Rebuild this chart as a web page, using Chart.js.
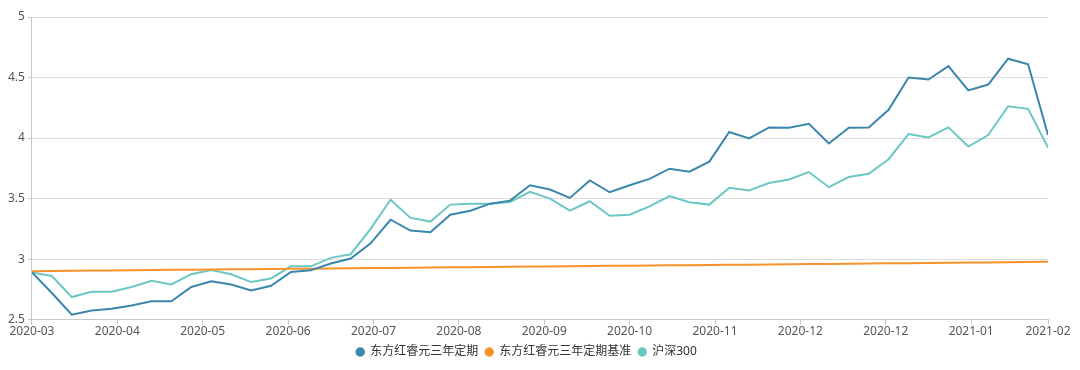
<!DOCTYPE html>
<html lang="zh">
<head>
  <meta charset="UTF-8">
  <title>东方红睿元三年定期 净值走势</title>
  <style>
    body {
      margin: 0;
      background: #ffffff;
    }
    .wrap {
      width: 1080px;
      height: 370px;
      position: relative;
    }
  </style>
</head>
<body>
  <div class="wrap">
    <canvas id="navChart"></canvas>
  </div>

  <script src="https://cdn.jsdelivr.net/npm/chart.js"></script>
  <script>
    // weekly dates (Fridays)
    const dates = [
      '2020-03-06', '2020-03-13', '2020-03-20', '2020-03-27',
      '2020-04-03', '2020-04-10', '2020-04-17', '2020-04-24',
      '2020-05-01', '2020-05-08', '2020-05-15', '2020-05-22', '2020-05-29',
      '2020-06-05', '2020-06-12', '2020-06-19', '2020-06-26',
      '2020-07-03', '2020-07-10', '2020-07-17', '2020-07-24', '2020-07-31',
      '2020-08-07', '2020-08-14', '2020-08-21', '2020-08-28',
      '2020-09-04', '2020-09-11', '2020-09-18', '2020-09-25',
      '2020-10-02', '2020-10-09', '2020-10-16', '2020-10-23', '2020-10-30',
      '2020-11-06', '2020-11-13', '2020-11-20', '2020-11-27',
      '2020-12-04', '2020-12-11', '2020-12-18', '2020-12-25',
      '2021-01-01', '2021-01-08', '2021-01-15', '2021-01-22', '2021-01-29',
      '2021-02-05', '2021-02-12', '2021-02-19', '2021-02-26'
    ];

    const fund = [
      2.89, 2.72, 2.54, 2.575, 2.59, 2.617, 2.652, 2.652, 2.77, 2.817,
      2.79, 2.74, 2.78, 2.894, 2.908, 2.963, 3.005, 3.13, 3.325, 3.236,
      3.222, 3.367, 3.40, 3.458, 3.483, 3.61, 3.575, 3.505, 3.65, 3.552,
      3.61, 3.663, 3.747, 3.722, 3.805, 4.05, 3.997, 4.088, 4.086, 4.117,
      3.955, 4.086, 4.088, 4.233, 4.50, 4.483, 4.594, 4.394, 4.442, 4.655,
      4.61, 4.025
    ];

    const benchmark = [
      2.900, 2.902, 2.903, 2.905, 2.906, 2.908, 2.909, 2.911, 2.912, 2.914,
      2.915, 2.917, 2.918, 2.920, 2.921, 2.923, 2.924, 2.926, 2.927, 2.929,
      2.930, 2.932, 2.933, 2.935, 2.936, 2.938, 2.939, 2.941, 2.942, 2.944,
      2.945, 2.947, 2.948, 2.950, 2.951, 2.953, 2.954, 2.956, 2.957, 2.959,
      2.960, 2.962, 2.963, 2.965, 2.966, 2.968, 2.969, 2.971, 2.972, 2.974,
      2.975, 2.977
    ];

    const hs300 = [
      2.89, 2.86, 2.686, 2.73, 2.73, 2.77, 2.82, 2.79, 2.875, 2.91,
      2.875, 2.81, 2.84, 2.94, 2.94, 3.01, 3.04, 3.25, 3.49, 3.34,
      3.31, 3.45, 3.458, 3.458, 3.472, 3.555, 3.50, 3.40, 3.478, 3.358,
      3.367, 3.436, 3.52, 3.469, 3.45, 3.589, 3.567, 3.628, 3.658, 3.719,
      3.594, 3.678, 3.705, 3.825, 4.033, 4.005, 4.088, 3.93, 4.025, 4.263,
      4.241, 3.922
    ];

    // x axis ticks (every 30 days, plus the last date)
    const tickDates = [
      '2020-03-06', '2020-04-05', '2020-05-05', '2020-06-04', '2020-07-04',
      '2020-08-03', '2020-09-02', '2020-10-02', '2020-11-01', '2020-12-01',
      '2020-12-31', '2021-01-30', '2021-02-26'
    ];
    const tickLabels = [
      '2020-03', '2020-04', '2020-05', '2020-06', '2020-07', '2020-08', '2020-09',
      '2020-10', '2020-11', '2020-12', '2020-12', '2021-01', '2021-02'
    ];

    const seriesNames = ['东方红睿元三年定期', '东方红睿元三年定期基准', '沪深300'];
    const colors = ['#3b86ad', '#f8922a', '#6cc7c4'];

    const toPoints = (values) => values.map((v, i) => ({ x: Date.parse(dates[i]), y: v }));

    const font = "'Noto Sans', 'Noto Sans CJK SC', sans-serif";
    Chart.defaults.font.family = font;

    const ctx = document.getElementById('navChart').getContext('2d');
    const chart = new Chart(ctx, {
      type: 'line',
      data: {
        datasets: [fund, benchmark, hs300].map((values, i) => ({
          label: seriesNames[i],
          data: toPoints(values),
          borderColor: colors[i],
          backgroundColor: colors[i],
          borderWidth: 2,
          pointRadius: 0,
          pointHoverRadius: 0,
          tension: 0,
          fill: false
        }))
      },
      options: {
        responsive: true,
        maintainAspectRatio: false,
        animation: false,
        layout: {
          padding: { left: 5, right: 32, top: 17, bottom: 2 }
        },
        scales: {
          x: {
            type: 'linear',
            min: Date.parse(dates[0]),
            max: Date.parse(dates[dates.length - 1]),
            afterBuildTicks: (axis) => {
              axis.ticks = tickDates.map(d => ({ value: Date.parse(d) }));
            },
            ticks: {
              autoSkip: false,
              maxRotation: 0,
              color: '#555',
              font: { size: 12 },
              padding: 0,
              callback: (value, index) => tickLabels[index]
            },
            grid: {
              drawOnChartArea: false,
              drawTicks: true,
              tickLength: 5,
              tickColor: '#c8c8c8'
            },
            border: { color: '#c8c8c8', width: 1 }
          },
          y: {
            min: 2.5,
            max: 5,
            ticks: {
              stepSize: 0.5,
              color: '#555',
              font: { size: 12 },
              padding: 3,
              callback: (value) => String(Number(value.toFixed(1)))
            },
            grid: {
              color: '#dcdcdc',
              tickColor: '#c8c8c8',
              tickLength: 4,
              tickBorderDash: [],
              borderDash: [2, 3]
            },
            border: { color: '#c8c8c8', width: 1 }
          }
        },
        plugins: {
          legend: {
            position: 'bottom',
            labels: {
              usePointStyle: true,
              pointStyle: 'circle',
              boxWidth: 8,
              boxHeight: 5.3,
              padding: 7,
              color: '#333',
              font: { size: 12 }
            }
          },
          tooltip: { enabled: false }
        }
      }
    });
  </script>
</body>
</html>
